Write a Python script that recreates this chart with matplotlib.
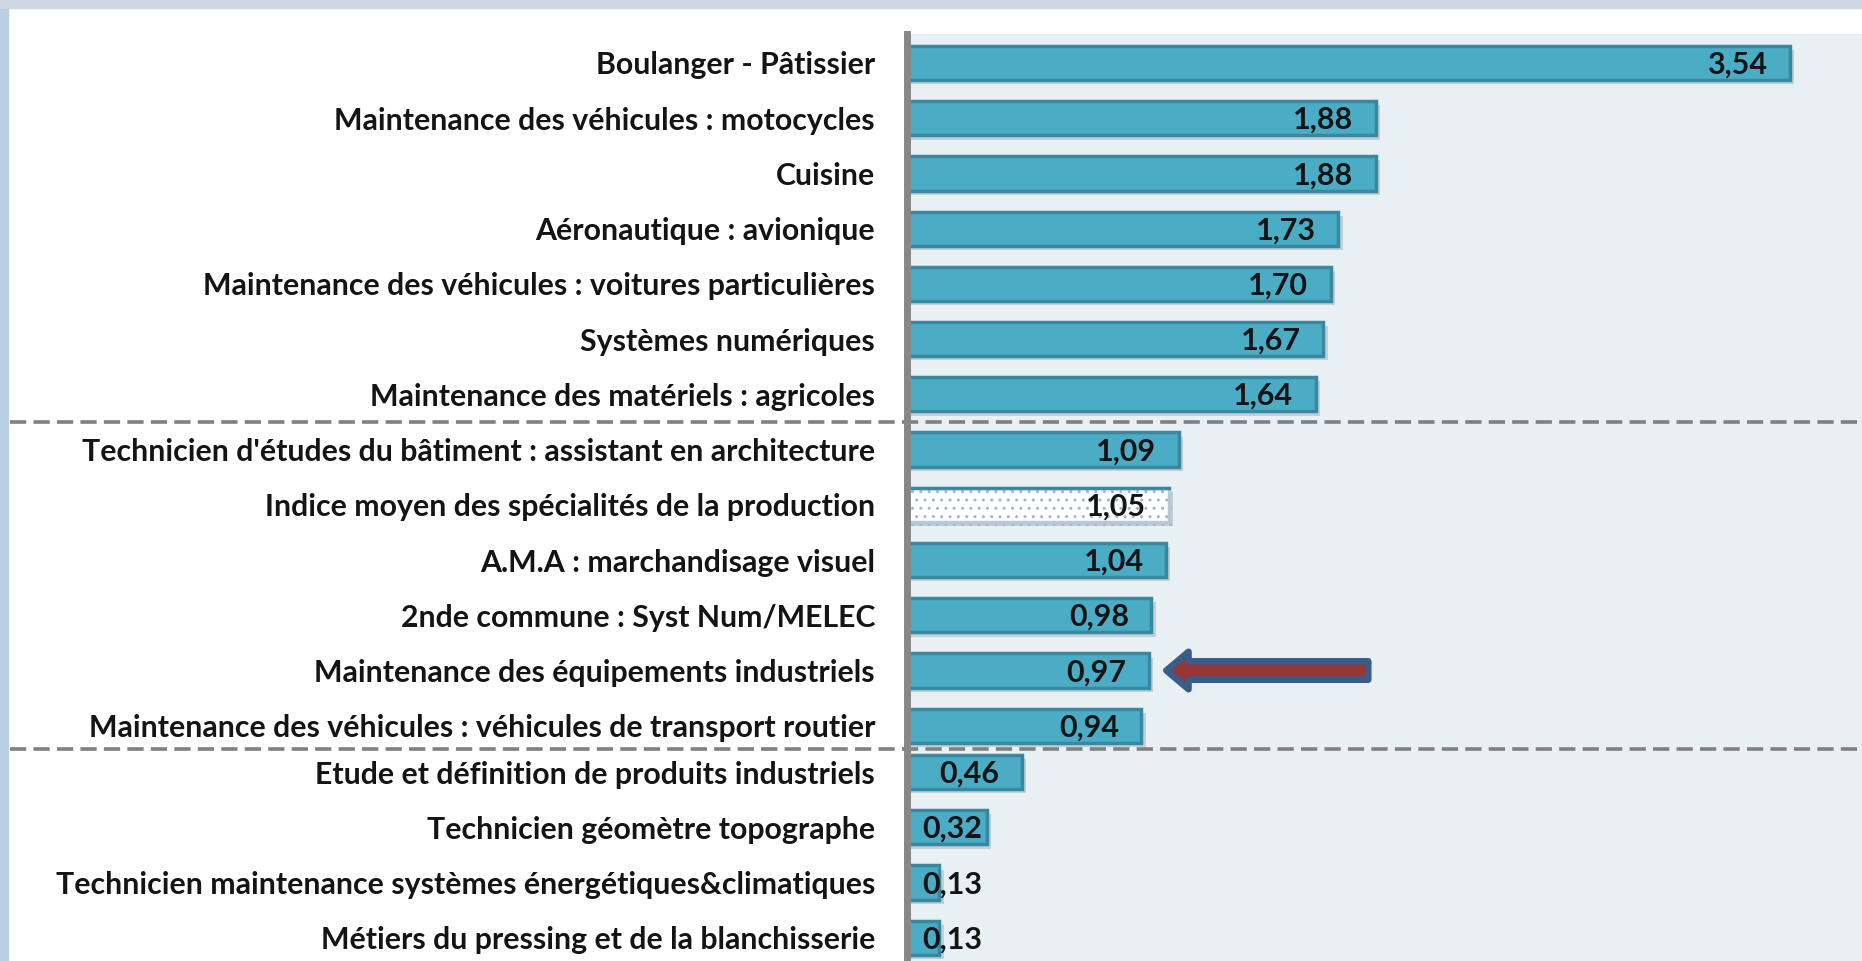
import numpy as np
import matplotlib.pyplot as plt
from matplotlib import patheffects as pe
from matplotlib.patches import Rectangle
import matplotlib.transforms as mtransforms

categories = [
    "Boulanger - Pâtissier",
    "Maintenance des véhicules : motocycles",
    "Cuisine",
    "Aéronautique : avionique",
    "Maintenance des véhicules : voitures particulières",
    "Systèmes numériques",
    "Maintenance des matériels : agricoles",
    "Technicien d'études du bâtiment : assistant en architecture",
    "Indice moyen des spécialités de la production",
    "A.M.A : marchandisage visuel",
    "2nde commune : Syst Num/MELEC",
    "Maintenance des équipements industriels",
    "Maintenance des véhicules : véhicules de transport routier",
    "Etude et définition de produits industriels",
    "Technicien géomètre topographe",
    "Technicien maintenance systèmes énergétiques&climatiques",
    "Métiers du pressing et de la blanchisserie",
]
values = [3.54, 1.88, 1.88, 1.73, 1.70, 1.67, 1.64,
          1.09, 1.05, 1.04, 0.98, 0.97, 0.94,
          0.46, 0.32, 0.13, 0.13]
value_labels = ["3,54", "1,88", "1,88", "1,73", "1,70", "1,67", "1,64",
                "1,09", "1,05", "1,04", "0,98", "0,97", "0,94",
                "0,46", "0,32", "0,13", "0,13"]
average_index = 8      # the "Indice moyen" bar, drawn dotted
arrow_index = 11       # bar pointed at by the arrow
group_breaks = [7, 13]  # dashed separators above these rows

font = "Lato"
text_color = "#141414"
bar_color = "#4BACC6"
edge_color = "#3A87A0"
plot_bg = "#E9F0F4"

fig = plt.figure(figsize=(18.62, 9.61), dpi=100)
fig.patch.set_facecolor("white")
# screenshot border strips
fig.add_artist(Rectangle((0, 0), 8 / 1862, 1, transform=fig.transFigure,
                         color="#B9CFE3", zorder=0))
fig.add_artist(Rectangle((0, 1 - 8 / 961), 1, 8 / 961, transform=fig.transFigure,
                         color="#CCD7E3", zorder=0))

ax = fig.add_axes([907 / 1862, 0, 955 / 1862, 1 - 34 / 961])
ax.set_facecolor(plot_bg)

n = len(values)
# lower group sits a little higher in the original
y = np.array([i if i < 13 else i - 0.16 for i in range(n)])

shadow = [pe.SimplePatchShadow(offset=(3, -3), shadow_rgbFace="#C3CFD8", alpha=1),
          pe.Normal()]
for i in range(n):
    if i == average_index:
        b = ax.barh(y[i], values[i], height=0.62, color="white", edgecolor="#9DB7D5",
                    hatch="..", linewidth=0, zorder=2)
        b[0].set_path_effects(shadow)
        ax.barh(y[i], values[i], height=0.62, fill=False, edgecolor="#B7C8D0",
                linewidth=2.5, zorder=3)
        ax.plot([0, values[i]], [y[i] - 0.31, y[i] - 0.31], color=edge_color,
                lw=2.5, zorder=3)
    else:
        b = ax.barh(y[i], values[i], height=0.62, color=bar_color,
                    edgecolor=edge_color, linewidth=2.5, zorder=2)
        b[0].set_path_effects(shadow)

for i in range(n):
    xr = max(values[i] - 0.09, 0.30)
    ax.text(xr, y[i] + 0.03, value_labels[i], ha="right", va="center",
            fontsize=22, fontweight="bold", color=text_color, family=font, zorder=4)

ax.set_xlim(0, 3.83)
ax.set_ylim(y[-1] + 0.42, -0.525)
ax.set_yticks(y)
ax.set_yticklabels(categories, family=font, fontsize=21.8, fontweight="bold",
                   color=text_color)
ax.tick_params(axis="y", length=0, pad=23)
ax.set_xticks([])
for s in ["top", "right", "bottom"]:
    ax.spines[s].set_visible(False)
ax.spines["left"].set_color("#878787")
ax.spines["left"].set_linewidth(5)
ax.spines["left"].set_zorder(5)

# dashed separators running across the whole panel
trans = mtransforms.blended_transform_factory(ax.transAxes, ax.transData)
for k in group_breaks:
    yy = (y[k - 1] + y[k]) / 2
    ax.plot([-897 / 955, 1], [yy, yy], transform=trans, color="#808080",
            lw=2.6, ls=(0, (4.5, 2)), clip_on=False, zorder=1)

# arrow pointing to the highlighted bar
ax.annotate("", xy=(values[arrow_index] + 0.07, y[arrow_index]),
            xytext=(1.85, y[arrow_index]),
            arrowprops=dict(arrowstyle="simple,head_length=1.6,head_width=2.7,tail_width=1.33",
                            fc="#953735", ec="#385D8A", lw=4.7, mutation_scale=10,
                            shrinkA=0, shrinkB=0, joinstyle="round"),
            zorder=6)

fig.savefig("out.png", dpi=100)
